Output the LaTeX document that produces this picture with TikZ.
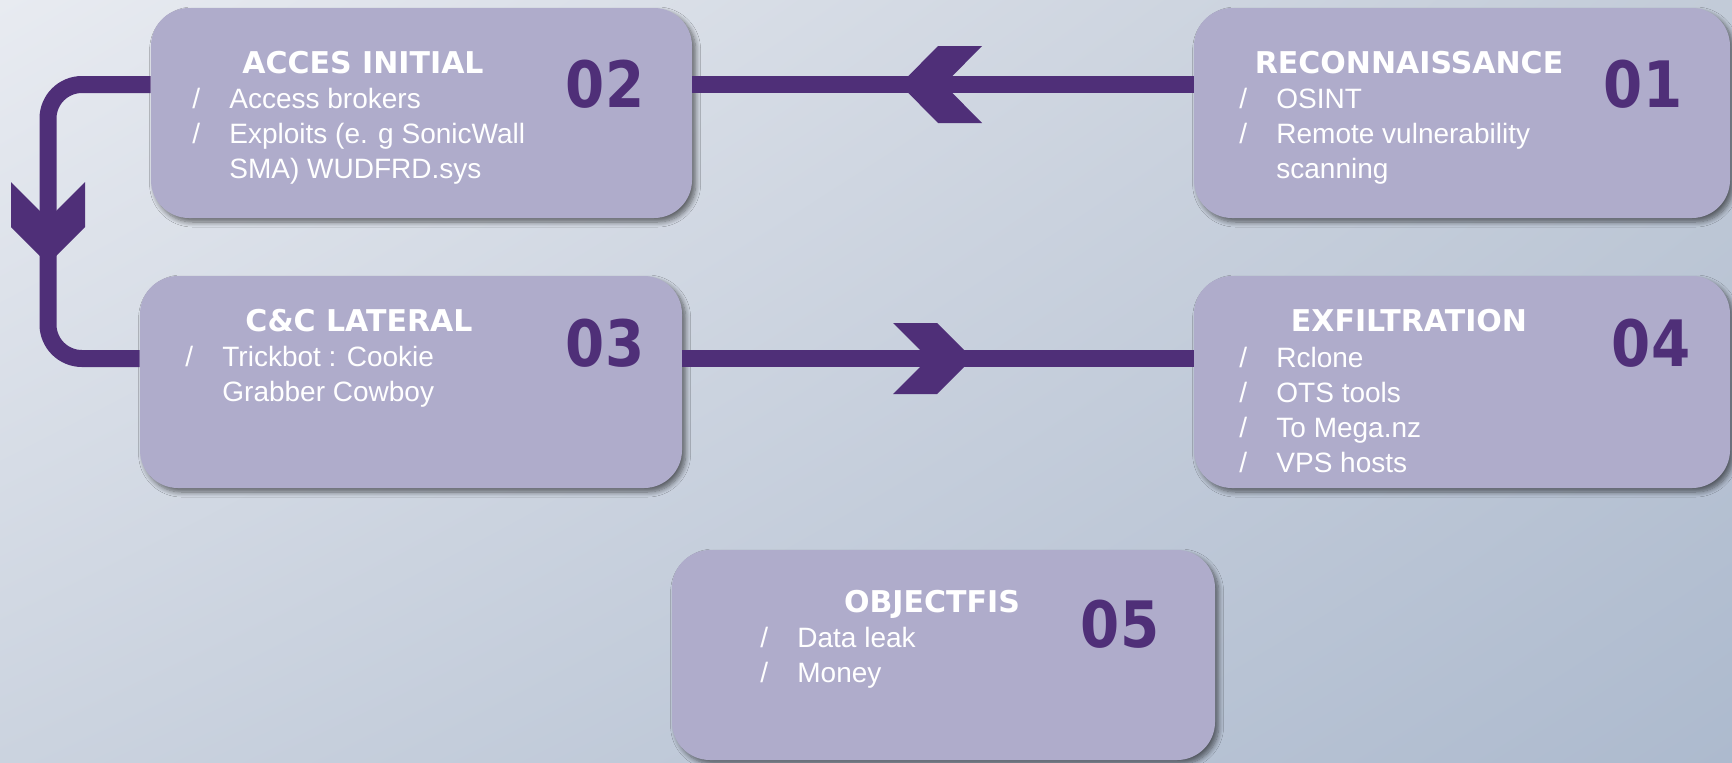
\documentclass[tikz,border=0pt]{standalone}
\usepackage{fontspec}
\setmainfont{Liberation Sans}
\newfontfamily\ttlfont{DejaVu Sans}
\newfontfamily\numfont{DejaVu Sans}[FakeStretch=0.88]
\usetikzlibrary{shadows,shadows.blur,shadings}
\definecolor{purp}{HTML}{4F2F78}
\definecolor{boxfill}{HTML}{AFACCB}
\definecolor{bgA}{HTML}{E8EBF1}
\definecolor{bgB}{HTML}{C2CBD8}
\definecolor{bgC}{HTML}{CBD3DF}
\definecolor{bgD}{HTML}{ADBACE}
\newcommand\bl{\makebox[18.5pt][l]{/}}
\newcommand\blank{\hspace*{18.5pt}}
\newcommand\lines[1]{\vtop{\baselineskip=17.5pt #1}}
\begin{document}
\begin{tikzpicture}[x=0.5pt,y=-0.5pt,
  stagebox/.style={rounded corners=19pt, fill=boxfill, inner sep=0pt,
    blur shadow={shadow xshift=1.8pt, shadow yshift=-2pt, shadow blur radius=2.5pt, shadow blur steps=8, shadow opacity=55}},
  conn/.style={draw=purp, line width=8.5pt},
  chev/.style={fill=purp},
  ttl/.style={anchor=base, text=white, font=\ttlfont\bfseries\fontsize{15}{18}\selectfont, inner sep=0pt},
  num/.style={anchor=base, text=purp, font=\numfont\bfseries\fontsize{32}{32}\selectfont, inner sep=0pt},
  body/.style={anchor=base west, text=white, font=\fontsize{14}{17.5}\selectfont, inner sep=0pt}]
\useasboundingbox (0,0) rectangle (1732,762);
\shade[upper left=bgA, upper right=bgB, lower left=bgC, lower right=bgD] (0,0) rectangle (1732,762);

% boxes
\node[stagebox, minimum width=270.5pt, minimum height=105pt] (b2) at (421.5,113) {};
\node[stagebox, minimum width=268pt, minimum height=105pt] (b1) at (1462,113) {};
\node[stagebox, minimum width=271pt, minimum height=106pt] (b3) at (411,382) {};
\node[stagebox, minimum width=268pt, minimum height=106pt] (b4) at (1462,382) {};
\node[stagebox, minimum width=271.5pt, minimum height=105pt] (b5) at (943.5,655) {};

% box 01
\node[ttl] (t1) at (1409,73) {RECONNAISSANCE};
\node[body] (l1) at (1239,108) {\lines{\hbox{\bl OSINT}\hbox{\bl Remote vulnerability}\hbox{\blank scanning}}};
\node[num] (n1) at (1643,107) {01};
% box 02
\node[ttl] (t2) at (363,73) {ACCES INITIAL};
\node[body] (l2) at (192,108) {\lines{\hbox{\bl Access brokers}\hbox{\bl Exploits (e. g SonicWall}\hbox{\blank SMA) WUDFRD.sys}}};
\node[num] (n2) at (605,107) {02};
% box 03
\node[ttl] (t3) at (359,331) {C\&C LATERAL};
\node[body] (l3) at (185,366) {\lines{\hbox{\bl Trickbot : Cookie}\hbox{\blank Grabber Cowboy}}};
\node[num] (n3) at (605,366) {03};
% box 04
\node[ttl] (t4) at (1409,331) {EXFILTRATION};
\node[body] (l4) at (1239,367) {\lines{\hbox{\bl Rclone}\hbox{\bl OTS tools}\hbox{\bl To Mega.nz}\hbox{\bl VPS hosts}}};
\node[num] (n4) at (1651,366) {04};
% box 05
\node[ttl] (t5) at (932,612) {OBJECTFIS};
\node[body] (l5) at (760,647) {\lines{\hbox{\bl Data leak}\hbox{\bl Money}}};
\node[num] (n5) at (1120,647) {05};

% connectors
\coordinate (rowA) at (0,84.5);
\coordinate (rowB) at (0,358.5);
\coordinate (colL) at (48,0);
\draw[conn] (b1.west |- rowA) -- (b2.east |- rowA);
\draw[conn, rounded corners=17pt] (b2.west |- rowA) -- (colL |- rowA) -- (colL |- rowB) -- (b3.west |- rowB);
\draw[conn] (b3.east |- rowB) -- (b4.west |- rowB);

% chevrons
\coordinate (tipA) at (900,84.5);
\fill[chev] (tipA) -- ++(38,-38.5) -- ++(44,0) -- ++(-38,38.5) -- ++(38,38.5) -- ++(-44,0) -- cycle;
\coordinate (tipB) at (972.5,358.5);
\fill[chev] (tipB) -- ++(-35.5,-35.5) -- ++(-44,0) -- ++(35.5,35.5) -- ++(-35.5,35.5) -- ++(44,0) -- cycle;
\coordinate (tipC) at (48,264);
\fill[chev] (tipC) -- ++(-37,-37) -- ++(0,-45) -- ++(37,37) -- ++(37,-37) -- ++(0,45) -- cycle;
\end{tikzpicture}
\end{document}
